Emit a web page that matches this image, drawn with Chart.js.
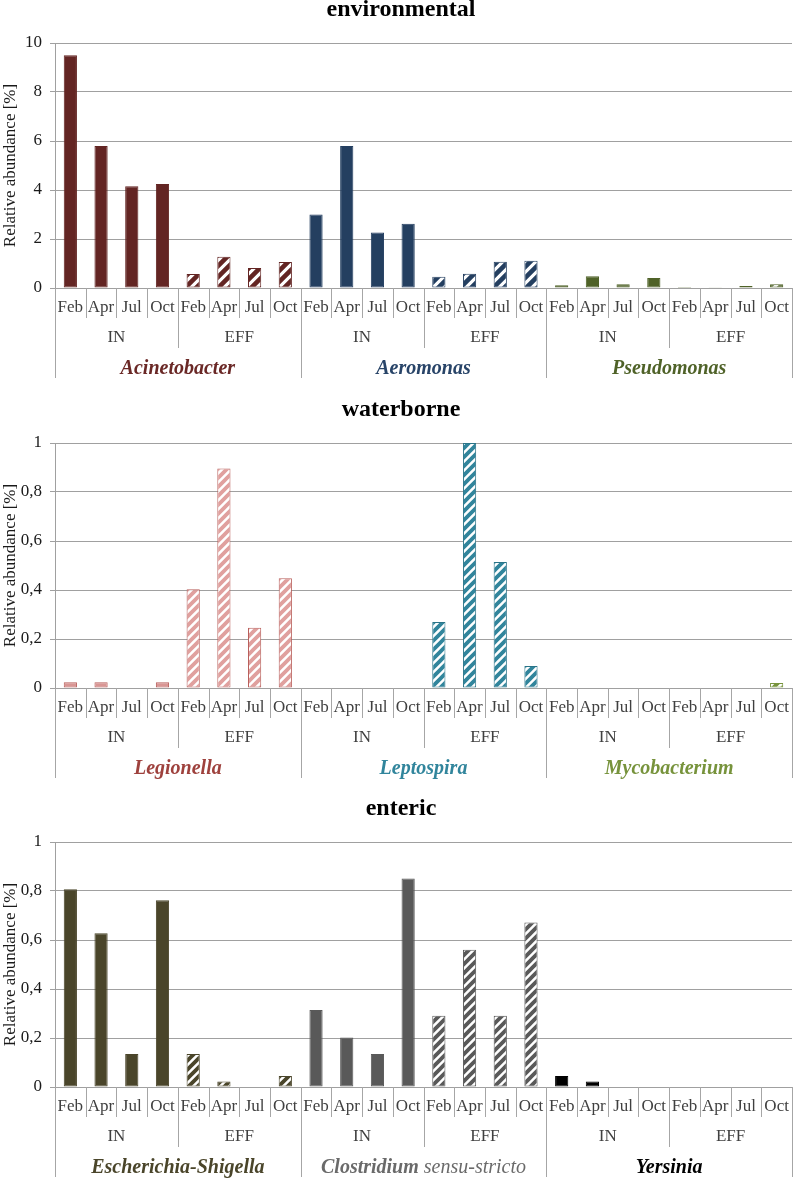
<!DOCTYPE html>
<html>
<head>
<meta charset="utf-8">
<script src="https://cdn.jsdelivr.net/npm/chart.js@4.4.0/dist/chart.umd.min.js"></script>
<style>
  body { margin: 0; background: #fff; }
  canvas { display: block; }
</style>
</head>
<body>
<canvas id="envChart" width="793" height="390"></canvas>
<canvas id="waterChart" width="793" height="390"></canvas>
<canvas id="entericChart" width="793" height="398"></canvas>
<script>
// --- DATA ---
const months = ['Feb', 'Apr', 'Jul', 'Oct'];
const sites = ['IN', 'EFF'];

// each genus: IN Feb..Oct, then EFF Feb..Oct
const acinetobacter = [9.5, 5.8, 4.15, 4.25, 0.57, 1.28, 0.82, 1.06];
const aeromonas     = [3.0, 5.8, 2.27, 2.62, 0.46, 0.58, 1.07, 1.11];
const pseudomonas   = [0.11, 0.48, 0.15, 0.41, 0.04, 0.03, 0.08, 0.15];

const legionella    = [0.023, 0.023, 0, 0.023, 0.403, 0.896, 0.246, 0.448];
const leptospira    = [0, 0, 0, 0, 0.269, 1.0, 0.514, 0.09];
const mycobacterium = [0, 0, 0, 0, 0, 0, 0, 0.02];

const escherichia   = [0.807, 0.628, 0.135, 0.762, 0.135, 0.022, 0, 0.045];
const clostridium   = [0.314, 0.202, 0.135, 0.851, 0.291, 0.56, 0.291, 0.671];
const yersinia      = [0.045, 0.022, 0, 0, 0, 0, 0, 0];

const envTicks = [0, 2, 4, 6, 8, 10];
const fracTicks = [0, 0.2, 0.4, 0.6, 0.8, 1];

const FONT = "'Liberation Serif', 'Times New Roman', serif";

// --- HELPERS ---
function stripes(color, size, lw) {
    const c = document.createElement('canvas');
    c.width = c.height = size;
    const g = c.getContext('2d');
    g.fillStyle = '#fff';
    g.fillRect(0, 0, size, size);
    g.strokeStyle = color;
    g.lineWidth = lw;
    g.beginPath();
    g.moveTo(-size, 2 * size); g.lineTo(2 * size, -size);
    g.moveTo(-size, size); g.lineTo(size, -size);
    g.moveTo(0, 2 * size); g.lineTo(2 * size, 0);
    g.stroke();
    return g.createPattern(c, 'repeat');
}

// plugin: title + month / site / genus rows under the axis
const groupLabels = {
    id: 'groupLabels',
    afterDraw(chart, args, opts) {
        const ctx = chart.ctx;
        const x = chart.scales.x;
        const bottom = chart.chartArea.bottom;
        const n = chart.data.labels.length;
        const step = x.getPixelForValue(1) - x.getPixelForValue(0);
        ctx.save();

        // title
        ctx.fillStyle = '#000';
        ctx.font = 'bold 24px ' + FONT;
        ctx.textAlign = 'center';
        ctx.textBaseline = 'middle';
        ctx.fillText(opts.title, 401, chart.chartArea.top - 33);

        // separators
        ctx.strokeStyle = '#a6a6a6';
        ctx.lineWidth = 1;
        for (let k = 0; k <= n; k++) {
            const px = Math.round(x.getPixelForValue(k) - step / 2) + 0.5;
            let len = 30;
            if (k % 8 === 0) len = 90;
            else if (k % 4 === 0) len = 60;
            ctx.beginPath();
            ctx.moveTo(px, bottom);
            ctx.lineTo(px, bottom + len);
            ctx.stroke();
        }

        // months
        ctx.fillStyle = '#404040';
        ctx.font = '17px ' + FONT;
        for (let i = 0; i < n; i++) {
            ctx.fillText(chart.data.labels[i], x.getPixelForValue(i), bottom + 20);
        }
        // sites
        for (let s = 0; s < n / 4; s++) {
            const cx = (x.getPixelForValue(s * 4) + x.getPixelForValue(s * 4 + 3)) / 2;
            ctx.fillText(sites[s % 2], cx, bottom + 50);
        }
        // genera
        opts.genera.forEach((gn, gi) => {
            const cx = (x.getPixelForValue(gi * 8) + x.getPixelForValue(gi * 8 + 7)) / 2;
            ctx.fillStyle = gn.color;
            if (gn.suffix) {
                ctx.font = 'bold italic 20px ' + FONT;
                const w1 = ctx.measureText(gn.name).width;
                ctx.font = 'italic 20px ' + FONT;
                const w2 = ctx.measureText(gn.suffix).width;
                const start = cx - (w1 + w2) / 2;
                ctx.textAlign = 'left';
                ctx.font = 'bold italic 20px ' + FONT;
                ctx.fillText(gn.name, start, bottom + 81);
                ctx.font = 'italic 20px ' + FONT;
                ctx.fillText(gn.suffix, start + w1, bottom + 81);
                ctx.textAlign = 'center';
            } else {
                ctx.font = 'bold italic 20px ' + FONT;
                ctx.fillText(gn.name, cx, bottom + 81);
            }
        });
        ctx.restore();
    }
};

function makePanel(id, title, genera, values, ticks, topPad, axisH, stripeSize) {
    const labels = [];
    const bg = [];
    const border = [];
    genera.forEach(g => {
        const pat = stripes(g.stripe, stripeSize, stripeSize * 0.42);
        for (let s = 0; s < 2; s++) {
            months.forEach(m => {
                labels.push(m);
                bg.push(s === 0 ? g.fill : pat);
                border.push(s === 0 ? g.fillBorder : g.border);
            });
        }
    });
    const data = [].concat(...values);
    const yMax = ticks[ticks.length - 1];
    const frac = yMax <= 1;

    new Chart(document.getElementById(id), {
        type: 'bar',
        data: {
            labels: labels,
            datasets: [{
                data: data,
                backgroundColor: bg,
                borderColor: border,
                borderWidth: 1,
                borderSkipped: false,
                barPercentage: 0.43,
                categoryPercentage: 1
            }]
        },
        options: {
            responsive: false,
            animation: false,
            events: [],
            layout: { padding: { top: topPad, right: 1, left: 0, bottom: 0 } },
            plugins: {
                legend: { display: false },
                tooltip: { enabled: false },
                groupLabels: { title: title, genera: genera }
            },
            scales: {
                x: {
                    grid: { display: false },
                    border: { display: false },
                    ticks: { display: false },
                    afterFit: s => { s.height = axisH; }
                },
                y: {
                    min: 0,
                    max: yMax,
                    afterBuildTicks: s => { s.ticks = ticks.map(v => ({ value: v })); },
                    grid: { color: '#a0a0a0', lineWidth: 1, tickLength: 5 },
                    border: { color: '#a0a0a0' },
                    ticks: {
                        padding: 8,
                        color: '#1a1a1a',
                        font: { family: FONT, size: 17 },
                        callback: v => frac ? String(+v.toFixed(1)).replace('.', ',') : String(v)
                    },
                    title: {
                        display: true,
                        text: 'Relative abundance [%]',
                        color: '#1a1a1a',
                        padding: 0,
                        font: { family: FONT, size: 17 }
                    },
                    afterFit: s => { s.width = 55; }
                }
            }
        },
        plugins: [groupLabels]
    });
}

makePanel('envChart', 'environmental', [
    { name: 'Acinetobacter', color: '#6a2826', fill: '#632523', fillBorder: '#632523', stripe: '#632523', border: '#632523' },
    { name: 'Aeromonas', color: '#284468', fill: '#243f60', fillBorder: '#243f60', stripe: '#243f60', border: '#243f60' },
    { name: 'Pseudomonas', color: '#4f6228', fill: '#4f6228', fillBorder: '#4f6228', stripe: '#4f6228', border: '#4f6228' }
], [acinetobacter, aeromonas, pseudomonas], envTicks, 43, 102, 11);

makePanel('waterChart', 'waterborne', [
    { name: 'Legionella', color: '#9e413d', fill: '#d99694', fillBorder: '#b9605c', stripe: '#e0a09e', border: '#b9605c' },
    { name: 'Leptospira', color: '#31859c', fill: '#31859c', fillBorder: '#31859c', stripe: '#31859c', border: '#2a7488' },
    { name: 'Mycobacterium', color: '#77933c', fill: '#77933c', fillBorder: '#77933c', stripe: '#77933c', border: '#77933c' }
], [legionella, leptospira, mycobacterium], fracTicks, 53, 92, 9);

makePanel('entericChart', 'enteric', [
    { name: 'Escherichia-Shigella', color: '#4a452a', fill: '#4a452a', fillBorder: '#4a452a', stripe: '#4a452a', border: '#4a452a' },
    { name: 'Clostridium', suffix: ' sensu-stricto', color: '#6a6a6a', fill: '#595959', fillBorder: '#595959', stripe: '#595959', border: '#595959' },
    { name: 'Yersinia', color: '#000000', fill: '#000000', fillBorder: '#000000', stripe: '#000000', border: '#000000' }
], [escherichia, clostridium, yersinia], fracTicks, 62, 91, 9);
</script>
</body>
</html>
